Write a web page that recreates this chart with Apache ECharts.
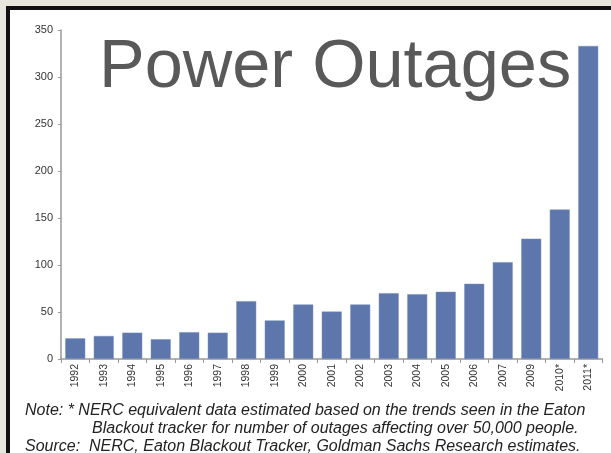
<!DOCTYPE html>
<html>
<head>
<meta charset="utf-8">
<script src="https://cdn.jsdelivr.net/npm/echarts@6/dist/echarts.min.js"></script>
<style>
  html, body { margin: 0; padding: 0; background: #e7e7dd; }
  #chart { width: 611px; height: 453px; }
</style>
</head>
<body>
<div id="chart"></div>
<script>
// categories (no 2008 in the source chart)
const years = ['1992', '1993', '1994', '1995', '1996', '1997', '1998', '1999', '2000', '2001',
  '2002', '2003', '2004', '2005', '2006', '2007', '2009', '2010*', '2011*']
// number of outages per year
const outages = [22, 24.5, 28, 21, 28.5, 28, 61.5, 41, 58, 50.5, 58, 70, 69, 71.5, 80, 103, 128, 159, 333]
const yTicks = { min: 0, max: 350, interval: 50 }

const titleText = 'Power Outages'
const noteLines = [
  'Note: * NERC equivalent data estimated based on the trends seen in the Eaton',
  'Blackout tracker for number of outages affecting over 50,000 people.',
  'Source:  NERC, Eaton Blackout Tracker, Goldman Sachs Research estimates.'
]

const chart = echarts.init(document.getElementById('chart'))

// footnote text items
const footStyle = {
  fontFamily: 'Arial, Liberation Sans, sans-serif',
  fontStyle: 'italic',
  fontSize: 16,
  fill: '#222'
}
const foot = [
  { x: 25, y: 411 },
  { x: 92, y: 429 },
  { x: 25, y: 447 }
].map((p, i) => ({
  type: 'text',
  x: p.x,
  y: p.y,
  z: 10,
  style: Object.assign({ text: noteLines[i], verticalAlign: 'middle' }, footStyle)
}))

chart.setOption({
  animation: false,
  backgroundColor: '#e7e7dd',
  graphic: [
    // black frame + white paper
    { type: 'rect', shape: { x: 6, y: 6, width: 620, height: 460 }, style: { fill: '#111' }, z: -10 },
    { type: 'rect', shape: { x: 10, y: 10, width: 620, height: 460 }, style: { fill: '#fff' }, z: -9 },
    ...foot
  ],
  title: {
    text: titleText,
    left: 94,
    top: 29,
    textStyle: {
      fontFamily: 'Arial, Liberation Sans, sans-serif',
      fontWeight: 'normal',
      fontSize: 68.5,
      color: '#595959'
    }
  },
  grid: {
    left: 61,
    right: 8.5,
    top: 30,
    bottom: 94
  },
  xAxis: {
    type: 'category',
    data: years,
    axisLine: { lineStyle: { color: '#999', width: 1.5 } },
    axisTick: { show: true, length: 4, lineStyle: { color: '#999' } },
    axisLabel: {
      rotate: 90,
      interval: 0,
      fontFamily: 'Arial, Liberation Sans, sans-serif',
      fontSize: 10.5,
      color: '#333',
      margin: 5
    }
  },
  yAxis: {
    type: 'value',
    min: yTicks.min,
    max: yTicks.max,
    interval: yTicks.interval,
    splitLine: { show: false },
    axisLine: { show: true, lineStyle: { color: '#999', width: 1.5 } },
    axisTick: { show: true, length: 3, lineStyle: { color: '#999' } },
    axisLabel: {
      fontFamily: 'Arial, Liberation Sans, sans-serif',
      fontSize: 11,
      color: '#333',
      margin: 8
    }
  },
  series: [
    {
      type: 'bar',
      data: outages,
      barCategoryGap: '30%',
      itemStyle: { color: '#5d77ac', borderColor: '#7a90bd', borderWidth: 0.5 }
    }
  ]
})
</script>
</body>
</html>
